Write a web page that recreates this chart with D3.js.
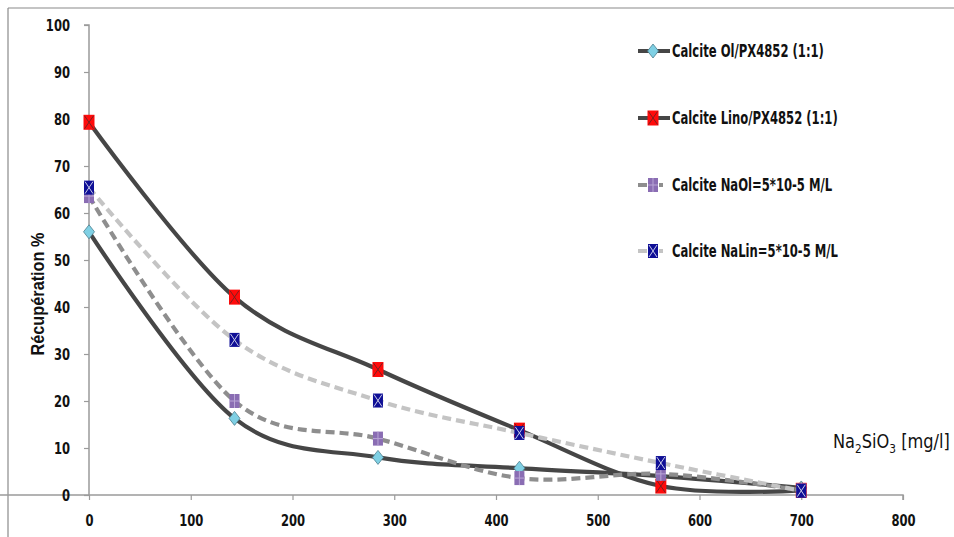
<!DOCTYPE html>
<html><head><meta charset="utf-8">
<script src="https://cdn.jsdelivr.net/npm/d3@7"></script>
<style>
html,body{margin:0;padding:0;background:#fff;}
svg{display:block;}
</style></head>
<body>
<svg id="c" width="954" height="537"></svg>
<script>
// ---- data ----
const xValues = [0, 143, 284, 423, 562, 700];
const seriesNames = ["Calcite Ol/PX4852 (1:1)", "Calcite Lino/PX4852 (1:1)", "Calcite NaOl=5*10-5 M/L", "Calcite NaLin=5*10-5 M/L"];
const olPX = [56, 16.3, 8, 5.7, 4, 1.5];
const linoPX = [79.3, 42.1, 26.7, 13.8, 1.9, 1];
const naOl = [63.6, 20, 12, 3.6, 4.5, 1];
const naLin = [65.4, 33, 20.1, 13.2, 6.8, 0.9];
const xTicks = [0, 100, 200, 300, 400, 500, 600, 700, 800];
const yTicks = [0, 10, 20, 30, 40, 50, 60, 70, 80, 90, 100];

const svg = d3.select("#c");
const FONT = "'DejaVu Sans Condensed','DejaVu Sans',sans-serif";

// horizontally squeeze a text around its anchor x so it looks like a condensed face
function squeeze(sel, s) {
  sel.each(function () {
    const t = d3.select(this);
    const ax = +t.attr("x") || 0;
    t.attr("transform", `translate(${ax},0) scale(${s},1) translate(${-ax},0)`);
  });
}
// squeeze a text so it spans a given width
function fitWidth(sel, w) {
  const L = sel.node().getComputedTextLength();
  squeeze(sel, w / L);
}

// frame
svg.append("line").attr("x1", 8).attr("y1", 8).attr("x2", 954).attr("y2", 8).attr("stroke", "#8a8a8a").attr("stroke-width", 1.2);
svg.append("line").attr("x1", 8).attr("y1", 8).attr("x2", 8).attr("y2", 537).attr("stroke", "#8a8a8a").attr("stroke-width", 1.2);

const x = d3.scaleLinear().domain([0, 800]).range([89, 903]);
const y = d3.scaleLinear().domain([0, 100]).range([495, 25]);

// axes
const axisColor = "#9b9b9b";
const gx = svg.append("g").attr("transform", `translate(0,${y(0)})`)
  .call(d3.axisBottom(x).tickValues(xTicks).tickSize(5).tickPadding(14));
const gy = svg.append("g").attr("transform", `translate(${x(0)},0)`)
  .call(d3.axisLeft(y).tickValues(yTicks).tickSize(5).tickPadding(14));
[gx, gy].forEach(g => {
  g.select(".domain").attr("stroke", axisColor).attr("stroke-width", 1.5);
  g.selectAll(".tick line").attr("stroke", axisColor).attr("stroke-width", 1.2);
  g.selectAll(".tick text").attr("fill", "#111").style("font-family", FONT)
    .style("font-weight", "bold").style("font-size", "16.5px");
  squeeze(g.selectAll(".tick text"), 0.78);
});
gy.select(".domain").attr("d", `M-5,${y(100)}H0V${y(0)}`);
gx.select(".domain").attr("d", `M0,0H${x(800)}V5`);

// axis titles
const yt = svg.append("text").attr("x", 0).attr("y", 0)
  .attr("text-anchor", "middle").style("font-family", "'Liberation Sans',Arial,sans-serif")
  .style("font-weight", "bold").style("font-size", "19px").attr("fill", "#111")
  .text("Récupération %");
const yL = yt.node().getComputedTextLength();
yt.attr("transform", `translate(44,${(232 + 356) / 2}) rotate(-90) scale(${123 / yL},1)`);

const xt = svg.append("text").attr("x", 833).attr("y", 448).style("font-family", FONT)
  .style("font-size", "20px").attr("fill", "#111");
xt.append("tspan").text("Na");
xt.append("tspan").attr("dy", 5).style("font-size", "13px").text("2");
xt.append("tspan").attr("dy", -5).text("SiO");
xt.append("tspan").attr("dy", 5).style("font-size", "13px").text("3");
xt.append("tspan").attr("dy", -5).text(" [mg/l]");
fitWidth(xt, 117);

// series definitions
const series = [
  {name: seriesNames[0], values: olPX, stroke: "#464646", dash: null, marker: "diamond"},
  {name: seriesNames[1], values: linoPX, stroke: "#464646", dash: null, marker: "red"},
  {name: seriesNames[2], values: naOl, stroke: "#8e8e8e", dash: "9,5", marker: "purple"},
  {name: seriesNames[3], values: naLin, stroke: "#c4c4c4", dash: "9,5", marker: "blue"}
];

function drawMarker(g, type, cx, cy) {
  const w = 10, h = 14;
  if (type === "diamond") {
    g.append("path").attr("d", `M${cx},${cy - 7}L${cx + 5.5},${cy}L${cx},${cy + 7}L${cx - 5.5},${cy}Z`)
      .attr("fill", "#7fd0e4").attr("stroke", "#4e7f8e").attr("stroke-width", 0.8);
    return;
  }
  const fills = {red: "#ff0a0a", purple: "#8a6db3", blue: "#0f0f96"};
  const lines = {red: "#7a2020", purple: "#b9a6d6", blue: "#c9cbe8"};
  const ww = type === "red" ? 11 : w, hh = type === "red" ? 15 : h;
  g.append("rect").attr("x", cx - ww / 2).attr("y", cy - hh / 2).attr("width", ww).attr("height", hh)
    .attr("fill", fills[type]);
  if (type === "purple") {
    g.append("path").attr("d", `M${cx},${cy - hh / 2}V${cy + hh / 2}M${cx - ww / 2},${cy}H${cx + ww / 2}`)
      .attr("stroke", lines[type]).attr("stroke-width", 1);
  } else {
    g.append("path").attr("d", `M${cx - ww / 2 + 1},${cy - hh / 2 + 1}L${cx + ww / 2 - 1},${cy + hh / 2 - 1}M${cx + ww / 2 - 1},${cy - hh / 2 + 1}L${cx - ww / 2 + 1},${cy + hh / 2 - 1}`)
      .attr("stroke", lines[type]).attr("stroke-width", 1);
  }
}

const line = d3.line().x((d, i) => x(xValues[i])).y(d => y(d)).curve(d3.curveCatmullRom.alpha(0));

series.forEach(s => {
  const g = svg.append("g");
  g.append("path").datum(s.values).attr("d", line).attr("fill", "none")
    .attr("stroke", s.stroke).attr("stroke-width", 4.2)
    .attr("stroke-dasharray", s.dash).attr("stroke-linecap", "butt");
  s.values.forEach((v, i) => drawMarker(g, s.marker, x(xValues[i]), y(v)));
});

// legend
const legendY = [51, 118, 185, 251];
series.forEach((s, i) => {
  const g = svg.append("g");
  const ly = legendY[i];
  if (s.dash) {
    g.append("line").attr("x1", 638).attr("x2", 647).attr("y1", ly).attr("y2", ly)
      .attr("stroke", s.stroke).attr("stroke-width", 4);
    g.append("line").attr("x1", 659).attr("x2", 663).attr("y1", ly).attr("y2", ly)
      .attr("stroke", s.stroke).attr("stroke-width", 4);
  } else {
    g.append("line").attr("x1", 638).attr("x2", 670).attr("y1", ly).attr("y2", ly)
      .attr("stroke", s.stroke).attr("stroke-width", 4);
  }
  drawMarker(g, s.marker, 653, ly);
  const t = g.append("text").attr("x", 672).attr("y", ly).attr("dy", "0.36em")
    .style("font-family", FONT).style("font-weight", "bold").style("font-size", "17px")
    .attr("fill", "#111").text(s.name);
  squeeze(t, 0.76);
});
</script>
</body></html>
